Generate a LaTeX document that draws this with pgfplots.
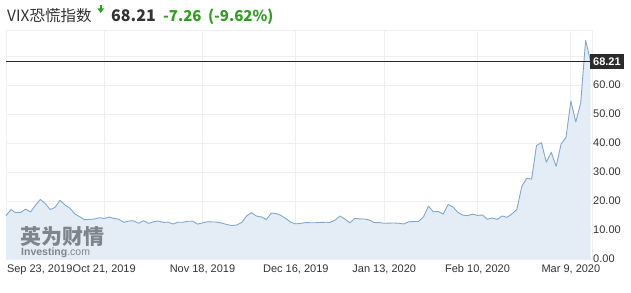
\documentclass[border=0pt]{standalone}
\usepackage{pgfplots}
\pgfplotsset{compat=1.18}
\usepackage{pgfplotstable}
\usepackage{fontspec}
\setmainfont{Liberation Sans}
\newfontfamily\cjk{Noto Sans CJK SC}
\definecolor{linecol}{HTML}{82A8D0}
\definecolor{fillcol}{HTML}{E4ECF5}
\definecolor{gridcol}{HTML}{EFEFEF}
\definecolor{txtcol}{HTML}{333333}
\definecolor{upgreen}{HTML}{2E9E1E}
\definecolor{boxcol}{HTML}{2B2B2B}
\definecolor{wmcol}{HTML}{6E737A}
\pgfplotstableread{
idx vix
0 14.91
1 17.05
2 15.96
3 16.07
4 17.22
5 16.24
6 18.56
7 20.56
8 19.12
9 17.04
10 17.86
11 20.28
12 18.64
13 17.57
14 15.58
15 14.57
16 13.54
17 13.68
18 13.79
19 14.25
20 14.00
21 14.46
22 14.01
23 13.71
24 12.65
25 13.11
26 13.20
27 12.33
28 13.22
29 12.30
30 12.83
31 13.10
32 12.62
33 12.73
34 12.07
35 12.69
36 12.68
37 13.00
38 13.05
39 12.05
40 12.46
41 12.86
42 12.78
43 12.73
44 12.34
45 11.87
46 11.54
47 11.75
48 12.62
49 14.91
50 15.96
51 14.80
52 14.52
53 13.62
54 15.86
55 15.68
56 14.99
57 13.94
58 12.63
59 12.14
60 12.29
61 12.58
62 12.50
63 12.51
64 12.61
65 12.67
66 12.65
67 13.43
68 14.82
69 13.78
70 12.47
71 14.02
72 13.85
73 13.79
74 13.45
75 12.54
76 12.56
77 12.32
78 12.39
79 12.42
80 12.32
81 12.10
82 12.85
83 12.91
84 12.98
85 14.56
86 18.23
87 16.28
88 16.39
89 15.49
90 18.84
91 17.97
92 16.05
93 15.15
94 14.96
95 15.47
96 15.04
97 15.18
98 13.74
99 14.15
100 13.68
101 14.83
102 14.38
103 15.56
104 17.08
105 25.03
106 27.85
107 27.56
108 39.16
109 40.11
110 33.42
111 36.82
112 31.99
113 39.62
114 41.94
115 54.46
116 47.30
117 53.90
118 75.47
119 68.21
}\vixdata
\begin{document}
\begin{tikzpicture}[x=1bp,y=1bp]
\useasboundingbox (0,0) rectangle (631,292);
\begin{axis}[
  at={(6bp,33bp)}, anchor=south west,
  scale only axis, width=586bp, height=229bp,
  xmin=0, xmax=119.3, ymin=0, ymax=79,
  axis line style={draw=gridcol},
  major tick length=0pt,
  grid=major,
  major grid style={draw=gridcol, line width=0.8bp},
  xtick={0,20,40,59,77,96,115},
  xticklabels={{\makebox[0pt][l]{\hspace{1bp}Sep 23, 2019}},{Oct 21, 2019},{Nov 18, 2019},{Dec 16, 2019},{Jan 13, 2020},{Feb 10, 2020},{Mar 9, 2020}},
  xticklabel style={font=\fontsize{11bp}{13bp}\selectfont, text=txtcol, yshift=-2.5bp},
  ytick={0,10,20,30,40,50,60,70},
  yticklabels={0.00,10.00,20.00,30.00,40.00,50.00,60.00,{}},
  yticklabel pos=right,
  yticklabel style={font=\fontsize{11bp}{13bp}\selectfont, text=txtcol, anchor=west, inner sep=0pt, xshift=1bp},
  clip=false,
]
\addplot[fill=fillcol, draw=none] table[x=idx, y=vix] {\vixdata} \closedcycle;
\addplot[linecol, line width=0.9bp, line join=round] table[x=idx, y=vix] {\vixdata};
\addplot[black!85, line width=1.2bp] coordinates {(0,68.21) (119.3,68.21)};
\end{axis}
% watermark
\node[anchor=base west, inner sep=0, text=wmcol, opacity=0.85] at (20,48) {\cjk\bfseries\fontsize{21bp}{24bp}\selectfont 英为财情};
\node[anchor=base west, inner sep=0, text=wmcol, opacity=0.85] at (21,37) {\fontsize{10.5bp}{12bp}\selectfont\textbf{Investing}.com};
% value box
\node[fill=boxcol, text=white, font=\bfseries\fontsize{11bp}{13bp}\selectfont, inner xsep=3bp, inner ysep=0pt, minimum height=15bp, anchor=west] at (590,230.7) {68.21};
% title
\node[anchor=base west, inner sep=0, text=txtcol] at (7,270.3) {\cjk\fontsize{15.5bp}{18bp}\selectfont VIX恐慌指数};
\fill[upgreen] (97.5,283.5) -- (104,283.5) -- (100.75,279) -- cycle;
\fill[upgreen] (99.6,283) rectangle (101.9,287);
\node[anchor=base west, inner sep=0, text=txtcol] at (111,270.3) {\cjk\bfseries\fontsize{16bp}{19bp}\selectfont 68.21};
\node[anchor=base west, inner sep=0, text=upgreen] at (163,270.3) {\cjk\bfseries\fontsize{15bp}{18bp}\selectfont -7.26};
\node[anchor=base west, inner sep=0, text=upgreen] at (208,270.3) {\cjk\bfseries\fontsize{15bp}{18bp}\selectfont (-9.62\%)};
\end{tikzpicture}
\end{document}
